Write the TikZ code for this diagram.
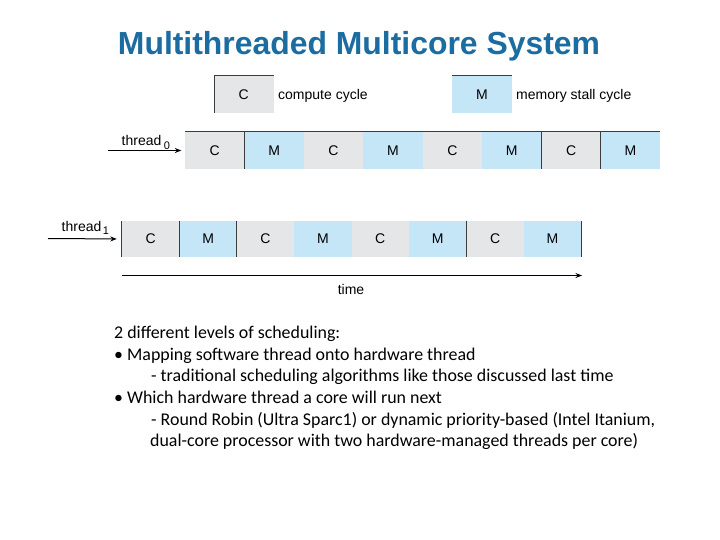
\documentclass[tikz,border=0pt]{standalone}
\usepackage{xcolor}
\usepackage{fontspec}
\usepackage{tikz}
\usetikzlibrary{arrows.meta}
\setmainfont{Carlito}
\newfontfamily\figfont{Liberation Sans}
\definecolor{MTTitle}{HTML}{1B6CA0}
\definecolor{MTCompute}{HTML}{E5E6E8}
\definecolor{MTStall}{HTML}{C5E6F7}
\definecolor{MTLine}{HTML}{3C3C3C}

\tikzset{
  cycC/.style={fill=MTCompute,inner sep=0pt,minimum width=59.4pt,minimum height=37pt,font=\figfont\fontsize{14}{14}\selectfont},
  cycM/.style={cycC,fill=MTStall},
  cycCs/.style={cycC,minimum width=57.4pt,minimum height=36pt},
  cycMs/.style={cycCs,fill=MTStall},
  figtext/.style={font=\figfont\fontsize{14}{14}\selectfont,inner sep=0pt},
  subtext/.style={font=\figfont\fontsize{11}{11}\selectfont,inner sep=0pt},
  bodytext/.style={anchor=base west,inner sep=0pt,font=\fontsize{17.9}{17.9}\selectfont},
  edge/.style={MTLine,line width=0.8pt},
  flow/.style={line width=1pt,-{Stealth[length=6.5pt,width=5pt]}}
}

\begin{document}
\begin{tikzpicture}[x=1pt,y=-1pt]
\path[use as bounding box] (0,0) rectangle (720,540);
\node[font=\figfont\bfseries\fontsize{31.9}{31.9}\selectfont,text=MTTitle] (title) at (359,46) {Multithreaded Multicore System};
% legend
\node[cycC] (legC) at (243.8,94.5) {C};
\draw[edge] (legC.south west) -- (legC.north west) -- (legC.north east);
\node[figtext,anchor=west] (legCtxt) at (278,95.5) {compute cycle};
\node[cycM] (legM) at (482,94.5) {M};
\draw[edge] (legM.north west) -- (legM.north east);
\node[figtext,anchor=west] (legMtxt) at (516,95.5) {memory stall cycle};
% thread 0
\node[cycC] (a1) at (214.7,150.5) {C};
\node[cycM] (a2) at (274.1,150.5) {M};
\node[cycC] (a3) at (333.5,150.5) {C};
\node[cycM] (a4) at (392.9,150.5) {M};
\node[cycC] (a5) at (452.3,150.5) {C};
\node[cycM] (a6) at (511.7,150.5) {M};
\node[cycC] (a7) at (571.1,150.5) {C};
\node[cycM] (a8) at (630.5,150.5) {M};
\draw[edge] (a1.north west) -- (a8.north east);
\draw[edge] (a2.north west) -- (a2.south west);
\draw[edge] (a7.north west) -- (a7.south west);
\draw[edge] (a8.north west) -- (a8.south west);
\node[figtext,anchor=base west] (lab0) at (121.5,146) {thread};
\node[subtext,anchor=base west] (sub0) at (lab0.base east) [xshift=2pt,yshift=-3.5pt] {0};
\coordinate (in0) at (108,150.5);
\draw[flow,shorten >=3.5pt] (in0) -- (a1.west);
% thread 1
\node[cycCs] (b1) at (150.7,239) {C};
\node[cycMs] (b2) at (208.1,239) {M};
\node[cycCs] (b3) at (265.5,239) {C};
\node[cycMs] (b4) at (322.9,239) {M};
\node[cycCs] (b5) at (380.3,239) {C};
\node[cycMs] (b6) at (437.7,239) {M};
\node[cycCs] (b7) at (495.1,239) {C};
\node[cycMs] (b8) at (552.5,239) {M};
\draw[edge] (b1.north west) -- (b1.south west);
\draw[edge] (b2.north west) -- (b2.south west);
\draw[edge] (b3.north west) -- (b3.south west);
\draw[edge] (b7.north west) -- (b7.south west);
\draw[edge] (b8.north east) -- (b8.south east);
\node[figtext,anchor=base west] (lab1) at (61.5,231) {thread};
\node[subtext,anchor=base west] (sub1) at (lab1.base east) [xshift=1pt,yshift=-3pt] {1};
\coordinate (in1) at (48,238.5);
\draw[flow,shorten >=5pt] (in1) -- (b1.west);
% time axis
\coordinate (tstart) at (122,275.5);
\coordinate (tend) at (582,275.5);
\draw[flow,line width=0.7pt] (tstart) -- (tend);
\node[figtext] (time) at (351,289.5) {time};
% notes
\node[bodytext] (n1) at (114,338.5) {2 different levels of scheduling:};
\node[bodytext] (n2) at (114,360.2) {\textbullet\ Mapping software thread onto hardware thread};
\node[bodytext] (n3) at (151,381.8) {- traditional scheduling algorithms like those discussed last time};
\node[bodytext] (n4) at (114,403.4) {\textbullet\ Which hardware thread a core will run next};
\node[bodytext] (n5) at (151,425) {- Round Robin (Ultra Sparc1) or dynamic priority-based (Intel Itanium,};
\node[bodytext] (n6) at (150,446.6) {dual-core processor with two hardware-managed threads per core)};
\end{tikzpicture}
\end{document}
